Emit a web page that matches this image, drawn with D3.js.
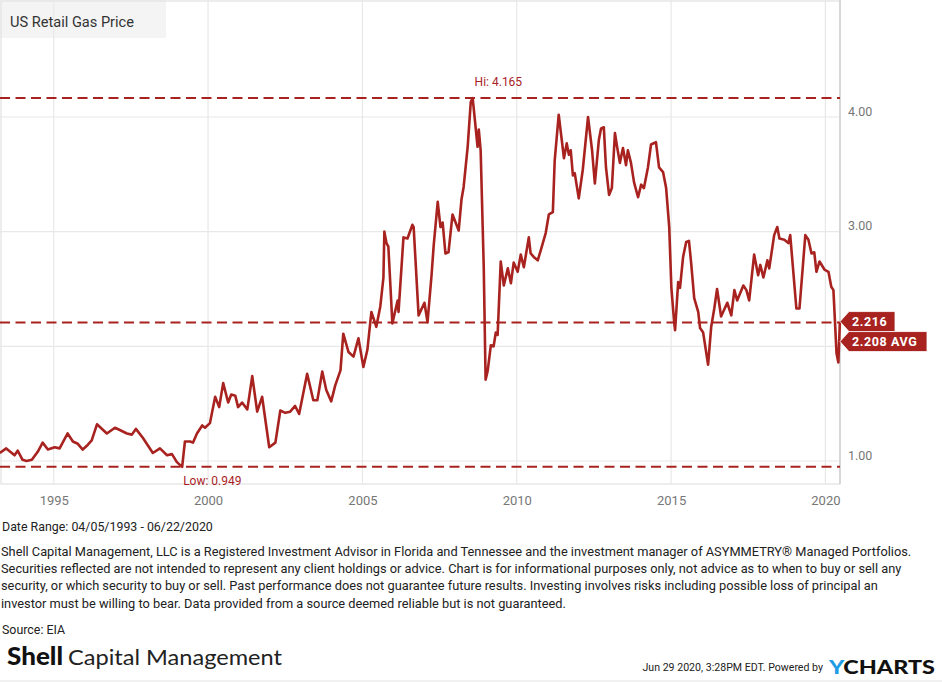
<!DOCTYPE html>
<html>
<head>
<meta charset="utf-8">
<script src="https://cdn.jsdelivr.net/npm/d3@7"></script>
<style>
  html, body { margin: 0; padding: 0; background: #fff; }
  svg { display: block; font-family: Roboto, "Liberation Sans", sans-serif; }
</style>
</head>
<body>
<svg id="chart" width="942" height="682"></svg>
<script>
// ---- data (decimal year, price $/gal) ----
const years = [
  1993.25,1993.46,1993.73,1993.83,1993.99,1994.12,1994.29,1994.48,1994.64,1994.81,
  1995.03,1995.19,1995.45,1995.62,1995.78,1995.94,1996.10,1996.23,1996.40,1996.72,
  1996.98,1997.14,1997.37,1997.53,1997.66,1997.89,1998.21,1998.44,1998.67,1998.83,
  1998.99,1999.16,1999.25,1999.42,1999.51,1999.64,1999.81,1999.90,2000.06,2000.23,
  2000.36,2000.49,2000.65,2000.75,2000.88,2000.97,2001.10,2001.27,2001.43,2001.59,
  2001.75,2001.98,2002.18,2002.34,2002.50,2002.66,2002.82,2002.95,2003.21,2003.41,
  2003.54,2003.70,2003.83,2003.99,2004.12,2004.29,2004.38,2004.55,2004.71,2004.87,
  2005.03,2005.16,2005.29,2005.45,2005.58,2005.68,2005.71,2005.78,2005.84,2005.97,
  2006.14,2006.17,2006.33,2006.46,2006.62,2006.66,2006.82,2007.01,2007.11,2007.24,
  2007.31,2007.44,2007.53,2007.60,2007.69,2007.79,2007.92,2008.02,2008.12,2008.21,
  2008.28,2008.41,2008.51,2008.57,2008.60,2008.73,2008.77,2008.83,2008.93,2008.99,
  2009.06,2009.16,2009.25,2009.32,2009.38,2009.48,2009.58,2009.71,2009.81,2009.90,
  2010.03,2010.13,2010.23,2010.39,2010.45,2010.55,2010.68,2010.78,2010.94,2011.04,
  2011.17,2011.23,2011.36,2011.53,2011.62,2011.69,2011.75,2011.82,2011.88,2012.01,
  2012.14,2012.31,2012.44,2012.53,2012.66,2012.73,2012.82,2012.89,2012.99,2013.08,
  2013.18,2013.25,2013.34,2013.44,2013.54,2013.60,2013.70,2013.80,2013.93,2014.03,
  2014.12,2014.25,2014.35,2014.51,2014.61,2014.74,2014.84,2014.94,2015.01,2015.10,
  2015.13,2015.23,2015.29,2015.39,2015.49,2015.58,2015.65,2015.75,2015.88,2015.94,
  2016.04,2016.20,2016.30,2016.40,2016.49,2016.62,2016.82,2016.95,2017.05,2017.14,
  2017.34,2017.44,2017.53,2017.69,2017.82,2017.89,2017.99,2018.12,2018.18,2018.34,
  2018.44,2018.51,2018.67,2018.80,2018.86,2019.06,2019.16,2019.35,2019.45,2019.55,
  2019.64,2019.71,2019.81,2019.97,2020.10,2020.19,2020.26,2020.36,2020.42,2020.47
];
const prices = [
  1.07,1.11,1.05,1.09,1.01,1.00,1.01,1.08,1.16,1.10,
  1.12,1.11,1.24,1.17,1.15,1.10,1.14,1.18,1.32,1.24,
  1.29,1.27,1.24,1.23,1.28,1.20,1.07,1.11,1.05,1.06,
  0.99,0.949,1.17,1.17,1.16,1.24,1.31,1.29,1.33,1.56,
  1.47,1.68,1.51,1.58,1.57,1.47,1.51,1.45,1.74,1.43,
  1.56,1.12,1.16,1.44,1.42,1.43,1.48,1.41,1.76,1.53,
  1.53,1.78,1.62,1.52,1.66,1.79,2.11,1.95,1.91,2.07,
  1.82,1.97,2.30,2.17,2.35,2.60,3.00,2.90,2.87,2.20,
  2.40,2.30,2.95,2.94,3.06,3.04,2.27,2.38,2.21,2.62,
  2.88,3.26,3.04,3.08,2.81,2.82,3.15,3.08,3.01,3.28,
  3.39,3.74,4.13,4.165,4.09,3.74,3.89,3.71,2.69,1.71,
  1.79,2.01,2.00,2.12,2.10,2.74,2.53,2.68,2.55,2.73,
  2.65,2.80,2.69,2.95,2.81,2.78,2.75,2.84,2.99,3.15,
  3.17,3.62,4.02,3.64,3.77,3.67,3.71,3.49,3.51,3.29,
  3.54,4.00,3.71,3.42,3.80,3.90,3.91,3.56,3.32,3.38,
  3.86,3.74,3.60,3.73,3.58,3.71,3.60,3.43,3.30,3.41,
  3.38,3.56,3.76,3.78,3.56,3.52,3.38,3.04,2.51,2.21,
  2.14,2.56,2.51,2.78,2.91,2.92,2.73,2.42,2.30,2.16,
  2.12,1.84,2.17,2.33,2.50,2.26,2.38,2.27,2.49,2.40,
  2.53,2.49,2.40,2.80,2.62,2.71,2.60,2.75,2.68,2.97,
  3.04,2.94,2.93,2.90,2.97,2.33,2.33,2.97,2.93,2.81,
  2.82,2.65,2.74,2.67,2.65,2.52,2.49,1.94,1.86,2.216
];
const hiValue = 4.165;
const lowValue = 0.949;
const avgValue = 2.208;
const lastValue = 2.216;
const xTickYears = [1995, 2000, 2005, 2010, 2015, 2020];
const yGridValues = [1, 2, 3, 4];
const yLabelValues = [1, 3, 4];
const dateStart = "1993-04-05";
const dateEnd = "2020-06-22";

const titleText = "US Retail Gas Price";
const dateRangeText = "Date Range: 04/05/1993 - 06/22/2020";
const disclaimer = [
  "Shell Capital Management, LLC is a Registered Investment Advisor in Florida and Tennessee and the investment manager of ASYMMETRY® Managed Portfolios.",
  "Securities reflected are not intended to represent any client holdings or advice. Chart is for informational purposes only, not advice as to when to buy or sell any",
  "security, or which security to buy or sell. Past performance does not guarantee future results. Investing involves risks including possible loss of principal an",
  "investor must be willing to bear. Data provided from a source deemed reliable but is not guaranteed."
];
const sourceText = "Source: EIA";
const stampText = "Jun 29 2020, 3:28PM EDT.  Powered by";

// ---- helpers ----
function yd(t) {
  const y = Math.floor(t);
  const s = new Date(y, 0, 1).getTime(), e = new Date(y + 1, 0, 1).getTime();
  return new Date(s + (t - y) * (e - s));
}
const parse = d3.timeParse("%Y-%m-%d");
const data = years.map((t, i) => ({ date: yd(t), value: prices[i] }));

const RED = "#a8231f";
const svg = d3.select("#chart");

const W = 840, B = 484;
const x = d3.scaleTime().domain([parse(dateStart), parse(dateEnd)]).range([0, W]);
const y = d3.scaleLinear().domain([1, 4]).range([461, 117]);

// title box
svg.append("rect").attr("x", 0).attr("y", 0).attr("width", 166).attr("height", 38).attr("fill", "#f4f4f4");

// plot frame
svg.append("rect").attr("x", 1).attr("y", 1).attr("width", W - 1).attr("height", B - 1)
  .attr("fill", "none").attr("stroke", "#e2e2e2").attr("stroke-width", 1.2);

// grid lines
svg.append("g").selectAll("line").data(yGridValues).join("line")
  .attr("x1", 0).attr("x2", W).attr("y1", d => y(d)).attr("y2", d => y(d))
  .attr("stroke", "#e8e8e8").attr("stroke-width", 1.2);
svg.append("g").selectAll("line").data(xTickYears).join("line")
  .attr("x1", d => x(new Date(d, 0, 1))).attr("x2", d => x(new Date(d, 0, 1)))
  .attr("y1", 0).attr("y2", B)
  .attr("stroke", "#e8e8e8").attr("stroke-width", 1.2);

// right axis line
svg.append("line").attr("x1", W).attr("x2", W).attr("y1", 0).attr("y2", B)
  .attr("stroke", "#c8c8c8").attr("stroke-width", 1.2);

// title
svg.append("text").attr("x", 10).attr("y", 27).attr("font-size", 15.5).attr("fill", "#333")
  .attr("textLength", 124).attr("lengthAdjust", "spacingAndGlyphs").text(titleText);

// x axis
const xAxis = d3.axisBottom(x)
  .tickValues(xTickYears.map(d => new Date(d, 0, 1)))
  .tickFormat(d3.timeFormat("%Y")).tickSize(0).tickPadding(0);
const gx = svg.append("g").attr("transform", `translate(0,${B})`).call(xAxis);
gx.select(".domain").remove();
gx.selectAll("text").attr("font-size", 13).attr("fill", "#777").attr("dy", null).attr("y", 21)
  .attr("font-family", "Roboto, sans-serif");

// y axis (right)
const yAxis = d3.axisRight(y).tickValues(yLabelValues).tickFormat(d3.format(".2f")).tickSize(0).tickPadding(0);
const gy = svg.append("g").attr("transform", `translate(${W},0)`).call(yAxis);
gy.select(".domain").remove();
gy.selectAll("text").attr("font-size", 12.5).attr("fill", "#777").attr("x", 8).attr("dy", "-0.15em")
  .attr("font-family", "Roboto, sans-serif");

// reference dashed lines
function dashed(v) {
  svg.append("line").attr("x1", 0).attr("x2", W).attr("y1", y(v)).attr("y2", y(v))
    .attr("stroke", RED).attr("stroke-width", 2).attr("stroke-dasharray", "10,5.5");
}
dashed(hiValue); dashed(lowValue); dashed(avgValue);

// line
const line = d3.line().x(d => x(d.date)).y(d => y(d.value));
svg.append("path").datum(data).attr("d", line).attr("fill", "none")
  .attr("stroke", RED).attr("stroke-width", 2.6).attr("stroke-linejoin", "round");

// hi / low labels
const hiPt = data.reduce((a, b) => b.value > a.value ? b : a);
const lowPt = data.reduce((a, b) => b.value < a.value ? b : a);
svg.append("text").attr("x", x(hiPt.date) + 2).attr("y", y(hiValue) - 12)
  .attr("font-size", 12).attr("fill", RED).text("Hi: " + hiValue.toFixed(3));
svg.append("text").attr("x", x(lowPt.date) + 1).attr("y", y(lowValue) + 18)
  .attr("font-size", 12).attr("fill", RED).text("Low: " + lowValue.toFixed(3));

// flags
function flag(tipY, w, label) {
  const x0 = W, h = 20;
  const g = svg.append("g");
  g.append("path").attr("d",
    `M${x0},${tipY} L${x0 + 9},${tipY - h / 2} L${x0 + w},${tipY - h / 2} L${x0 + w},${tipY + h / 2} L${x0 + 9},${tipY + h / 2} Z`)
    .attr("fill", RED).attr("stroke", "#fff").attr("stroke-width", 0.8);
  g.append("text").attr("x", x0 + 12).attr("y", tipY + 4.5).attr("font-size", 12.5)
    .attr("font-weight", 700).attr("fill", "#fff").attr("letter-spacing", 0.6).text(label);
}
flag(y(lastValue), 55, lastValue.toFixed(3));
flag(y(lastValue) + 20, 87, avgValue.toFixed(3) + " AVG");

// footer text
const foot = svg.append("g").attr("fill", "#222");
foot.append("text").attr("x", 2).attr("y", 531).attr("font-size", 12.4).text(dateRangeText);
disclaimer.forEach((t, i) => {
  foot.append("text").attr("x", 1).attr("y", 556 + i * 17.2).attr("font-size", 12.8).text(t);
});
foot.append("text").attr("x", 2).attr("y", 634).attr("font-size", 12.4).text(sourceText);

// logo
svg.append("text").attr("x", 7).attr("y", 665).attr("font-family", "Lato, 'Open Sans', sans-serif")
  .attr("font-weight", 900).attr("font-size", 25).attr("fill", "#111")
  .attr("textLength", 56).attr("lengthAdjust", "spacingAndGlyphs").text("Shell");
svg.append("text").attr("x", 68).attr("y", 665).attr("font-family", "Lato, 'Open Sans', sans-serif")
  .attr("font-weight", 400).attr("font-size", 21).attr("fill", "#222")
  .attr("textLength", 214).attr("lengthAdjust", "spacingAndGlyphs").text("Capital Management");

// stamp + ycharts
svg.append("text").attr("x", 823).attr("y", 671).attr("font-size", 10.6).attr("fill", "#222")
  .attr("text-anchor", "end").attr("font-family", "Roboto, sans-serif").text(stampText);
const yc = svg.append("text").attr("x", 829).attr("y", 674).attr("font-size", 18).attr("font-weight", 900)
  .attr("font-family", "Lato, sans-serif")
  .attr("textLength", 106).attr("lengthAdjust", "spacingAndGlyphs");
yc.append("tspan").attr("fill", "#1d9ce6").text("Y");
yc.append("tspan").attr("fill", "#111").text("CHARTS");

// bottom rule
svg.append("line").attr("x1", 0).attr("x2", 942).attr("y1", 681).attr("y2", 681)
  .attr("stroke", "#e4e4e4").attr("stroke-width", 1);
</script>
</body>
</html>
